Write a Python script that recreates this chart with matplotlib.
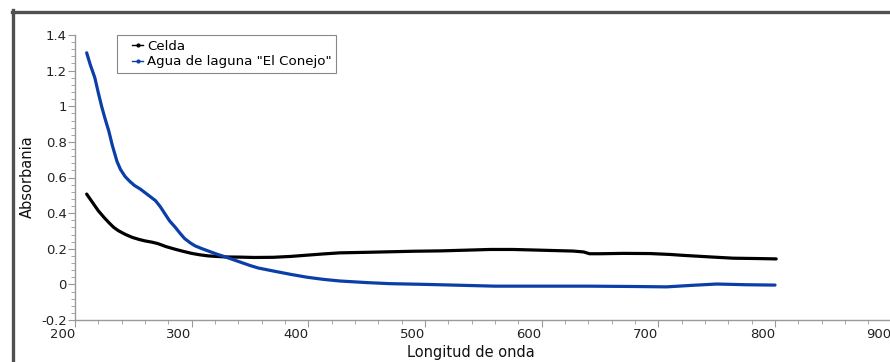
import numpy as np
import matplotlib.pyplot as plt
from matplotlib.lines import Line2D
from matplotlib.legend_handler import HandlerLine2D
from matplotlib.ticker import MultipleLocator

# Espectro de absorbancia: celda vacia y agua de la laguna
wl_agua = [210, 213, 217, 220, 223, 226, 229, 232, 236, 239, 243, 247, 251, 256,
           260, 265, 269, 273, 277, 281, 286, 290, 294, 299, 303, 309, 314, 321,
           329, 336, 343, 350, 357, 370, 385, 399, 413, 427, 450, 470, 500, 530,
           560, 600, 640, 680, 707, 730, 750, 775, 800]
abs_agua = [1.30, 1.235, 1.16, 1.075, 0.995, 0.925, 0.86, 0.78, 0.69, 0.645, 0.605, 0.578,
            0.555, 0.535, 0.515, 0.49, 0.47, 0.437, 0.397, 0.357, 0.32, 0.287, 0.257,
            0.232, 0.216, 0.20, 0.188, 0.171, 0.154, 0.138, 0.122, 0.106, 0.092, 0.075,
            0.056, 0.04, 0.028, 0.019, 0.01, 0.004, 0.0, -0.005, -0.01, -0.01, -0.01,
            -0.012, -0.014, -0.005, 0.002, -0.002, -0.004]

wl_celda = [210, 215, 220, 225, 229, 233, 237, 243, 249, 255, 260, 266, 271, 278,
            286, 293, 300, 307, 314, 321, 329, 341, 354, 370, 385, 399, 413, 427,
            450, 470, 490, 513, 535, 556, 575, 593, 610, 627, 636, 641, 650, 670,
            693, 710, 721, 742, 764, 785, 801]
abs_celda = [0.507, 0.46, 0.413, 0.375, 0.347, 0.321, 0.302, 0.281, 0.264, 0.252, 0.244,
             0.237, 0.229, 0.212, 0.197, 0.185, 0.174, 0.166, 0.160, 0.157, 0.154,
             0.153, 0.151, 0.152, 0.157, 0.164, 0.171, 0.177, 0.180, 0.183, 0.186,
             0.188, 0.192, 0.196, 0.196, 0.193, 0.190, 0.187, 0.182, 0.172, 0.172,
             0.174, 0.173, 0.168, 0.163, 0.155, 0.147, 0.145, 0.143]

x_ticks = [200, 300, 400, 500, 600, 700, 800, 900]
y_ticks = [-0.2, 0, 0.2, 0.4, 0.6, 0.8, 1, 1.2, 1.4]
y_tick_labels = ['-0.2', '0', '0.2', '0.4', '0.6', '0.8', '1', '1.2', '1.4']


class ShortLine(HandlerLine2D):
    # linea de leyenda corta, pegada al texto
    def create_artists(self, legend, orig_handle, xdescent, ydescent, width,
                       height, fontsize, trans):
        shift = width * 0.5
        return super().create_artists(legend, orig_handle, xdescent - shift,
                                      ydescent, width - shift, height,
                                      fontsize, trans)


W, H = 890, 362
fig = plt.figure(figsize=(W / 100, H / 100), dpi=100)
fig.patch.set_facecolor('white')

ax = fig.add_axes([75 / W, 42 / H, (891.7 - 75) / W, (327 - 42) / H])
ax.plot(wl_celda, abs_celda, color='black', lw=2.3, solid_capstyle='round',
        solid_joinstyle='round')
ax.plot(wl_agua, abs_agua, color='#0a3fa8', lw=2.3, solid_capstyle='round',
        solid_joinstyle='round')

ax.set_xlim(200, 900)
ax.set_ylim(-0.2, 1.4)
ax.set_xticks(x_ticks)
ax.set_xticklabels([str(t) for t in x_ticks], ha='right')
ax.set_yticks(y_ticks)
ax.set_yticklabels(y_tick_labels)
ax.xaxis.set_minor_locator(MultipleLocator(20))
ax.yaxis.set_minor_locator(MultipleLocator(0.04))

for s in ['top', 'right']:
    ax.spines[s].set_visible(False)
for s in ['left', 'bottom']:
    ax.spines[s].set_color('#999999')
    ax.spines[s].set_linewidth(1.0)
ax.tick_params(which='major', direction='out', length=5, color='#999999',
               labelsize=9.5, labelcolor='#222222', pad=1)
ax.tick_params(which='minor', direction='out', length=3, color='#999999')
ax.set_facecolor('white')

fig.text(471 / W, 1 - 353 / H, 'Longitud de onda', ha='center', va='center',
         fontsize=10.5, color='#111111')
fig.text(27 / W, 1 - 177 / H, 'Absorbania', ha='center', va='center',
         rotation=90, fontsize=10.5, color='#111111')

handles = [Line2D([], [], color='black', lw=1, marker='o', markersize=2),
           Line2D([], [], color='#0a3fa8', lw=1, marker='o', markersize=2)]
leg = ax.legend(handles, ['Celda', 'Agua de laguna "El Conejo"'],
                loc='upper left', bbox_to_anchor=(117 / W, 1 - 35 / H),
                bbox_transform=fig.transFigure, borderaxespad=0,
                fontsize=9.6, handlelength=1.6, handletextpad=0.3,
                labelspacing=0.2, borderpad=0.35, fancybox=False,
                framealpha=1, edgecolor='#888888',
                handler_map={Line2D: ShortLine()})
leg.get_frame().set_linewidth(0.8)

# marco oscuro de la ventana
fig.add_artist(Line2D([13 / W, 13 / W], [0, 1 - 10 / H], transform=fig.transFigure,
                      color='#505050', lw=2.4))
fig.add_artist(Line2D([12 / W, 1], [1 - 11.5 / H, 1 - 11.5 / H], transform=fig.transFigure,
                      color='#505050', lw=2.4))

fig.savefig('out.png', dpi=100)
